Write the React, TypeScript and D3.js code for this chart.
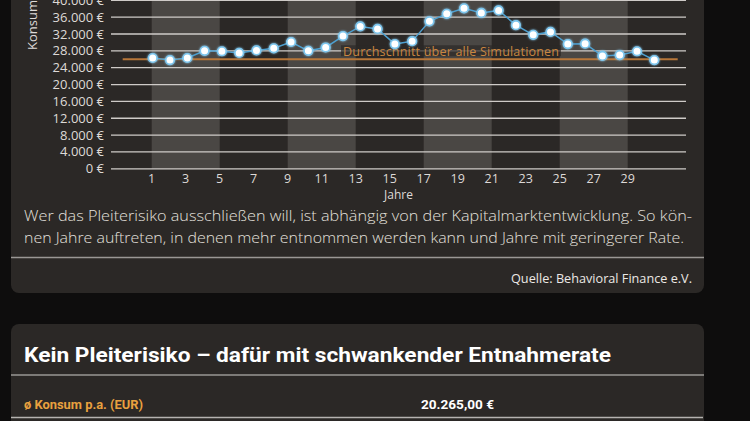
import * as d3 from 'd3';
import React, { useEffect, useRef } from 'react';

// Konsum pro Jahr (EUR), Jahr 1..30
const years = d3.range(1, 31);
const konsum = [
    26300, 25800, 26300, 28000, 27900, 27500, 28100, 28600, 30100, 28000,
    28800, 31500, 33800, 33200, 29600, 30300, 35000, 36800, 38100, 37000,
    37600, 34100, 31800, 32500, 29600, 29700, 26800, 27000, 27900, 25800,
];
const durchschnitt = 26000;
const yTicks = d3.range(0, 44000, 4000);
const xTickLabels = [1, 3, 5, 7, 9, 11, 13, 15, 17, 19, 21, 23, 25, 27, 29];
const bandStarts = [1, 9, 17, 25];

const bodyLines = [
    'Wer das Pleiterisiko ausschließen will, ist abhängig von der Kapitalmarktentwicklung. So kön-',
    'nen Jahre auftreten, in denen mehr entnommen werden kann und Jahre mit geringerer Rate.',
];
const quelle = 'Quelle: Behavioral Finance e.V.';
const heading = 'Kein Pleiterisiko – dafür mit schwankender Entnahmerate';
const rowLabel = 'ø Konsum p.a. (EUR)';
const rowValue = '20.265,00 €';

const fmt = (v: number) => d3.format(',')(v).replace(/,/g, '.') + ' €';

const App: React.FC = () => {
    const svgRef = useRef<SVGSVGElement | null>(null);

    useEffect(() => {
        const W = 750;
        const H = 421;
        const font = '"Open Sans", sans-serif';
        const cardBg = '#2b2826';
        const bandBg = '#4a4744';

        d3.select(svgRef.current).selectAll('*').remove();
        const svg = d3.select(svgRef.current).attr('width', W).attr('height', H);

        svg.append('rect').attr('width', W).attr('height', H).attr('fill', '#0e0d0d');

        // Card 1 (top is scrolled out of view)
        svg.append('rect')
            .attr('x', 11).attr('y', -40).attr('width', 693).attr('height', 333)
            .attr('rx', 8).attr('fill', cardBg);

        // Card 2
        svg.append('rect')
            .attr('x', 11).attr('y', 324).attr('width', 693).attr('height', 140)
            .attr('rx', 8).attr('fill', cardBg);

        // Scales
        const gridLeft = 111;
        const gridRight = 686;
        const xAxis = d3.scaleLinear().domain([1, 29]).range([151.7, 627.7]);
        const xPoint = d3.scaleLinear().domain([1, 30]).range([152.7, 654.3]);
        const y = d3.scaleLinear().domain([0, 40000]).range([168.8, 0.3]);

        const plot = svg.append('g');

        // Alternating bands
        plot.selectAll('rect.band')
            .data(bandStarts)
            .enter()
            .append('rect')
            .attr('class', 'band')
            .attr('x', d => xAxis(d))
            .attr('y', -40)
            .attr('width', d => xAxis(d + 4) - xAxis(d))
            .attr('height', 40 + y(0))
            .attr('fill', bandBg);

        // Gridlines
        plot.selectAll('line.grid')
            .data(yTicks)
            .enter()
            .append('line')
            .attr('x1', gridLeft)
            .attr('x2', gridRight)
            .attr('y1', d => y(d))
            .attr('y2', d => y(d))
            .attr('stroke', '#cfcbc8')
            .attr('stroke-width', 1.3);

        // Y tick labels
        plot.selectAll('text.ytick')
            .data(yTicks)
            .enter()
            .append('text')
            .attr('x', 104)
            .attr('y', d => y(d) + 4.5)
            .attr('text-anchor', 'end')
            .attr('fill', '#dedad7')
            .style('font-family', font)
            .style('font-size', '13px')
            .text(d => fmt(d));

        // Y axis title
        svg.append('text')
            .attr('transform', 'translate(37,50) rotate(-90)')
            .attr('text-anchor', 'start')
            .attr('fill', '#dedad7')
            .style('font-family', font)
            .style('font-size', '13px')
            .text('Konsum p.a.');

        // X tick labels
        plot.selectAll('text.xtick')
            .data(xTickLabels)
            .enter()
            .append('text')
            .attr('x', d => xAxis(d))
            .attr('y', 183)
            .attr('text-anchor', 'middle')
            .attr('fill', '#dedad7')
            .style('font-family', font)
            .style('font-size', '12.5px')
            .text(d => d);

        svg.append('text')
            .attr('x', (gridLeft + gridRight) / 2)
            .attr('y', 199)
            .attr('text-anchor', 'middle')
            .attr('fill', '#dedad7')
            .style('font-family', font)
            .style('font-size', '12px')
            .text('Jahre');

        // Average line
        plot.append('line')
            .attr('x1', 122.7)
            .attr('x2', 677.7)
            .attr('y1', y(durchschnitt))
            .attr('y2', y(durchschnitt))
            .attr('stroke', '#b8773a')
            .attr('stroke-width', 2);

        plot.append('rect')
            .attr('x', 341)
            .attr('y', y(durchschnitt) - 14)
            .attr('width', 220)
            .attr('height', 11)
            .attr('fill', cardBg)
            .attr('opacity', 0.7);

        plot.append('text')
            .attr('x', 343)
            .attr('y', y(durchschnitt) - 3.5)
            .attr('fill', '#c98640')
            .style('font-family', font)
            .style('font-size', '12.5px')
            .attr('textLength', 216)
            .text('Durchschnitt über alle Simulationen');

        // Line + points
        const line = d3.line<number>()
            .x((_, i) => xPoint(years[i]))
            .y(d => y(d));

        plot.append('path')
            .datum(konsum)
            .attr('d', line)
            .attr('fill', 'none')
            .attr('stroke', '#4d9fcf')
            .attr('stroke-width', 1.5);

        const defs = svg.append('defs');
        const glow = defs.append('filter').attr('id', 'glow')
            .attr('x', '-100%').attr('y', '-100%').attr('width', '300%').attr('height', '300%');
        glow.append('feGaussianBlur').attr('stdDeviation', 1.2).attr('result', 'b');
        const merge = glow.append('feMerge');
        merge.append('feMergeNode').attr('in', 'b');
        merge.append('feMergeNode').attr('in', 'SourceGraphic');

        plot.selectAll('circle.pt')
            .data(konsum)
            .enter()
            .append('circle')
            .attr('cx', (_, i) => xPoint(years[i]))
            .attr('cy', d => y(d))
            .attr('r', 4.3)
            .attr('fill', '#ffffff')
            .attr('stroke', '#7cc6ee')
            .attr('stroke-width', 1.6)
            .attr('filter', 'url(#glow)');

        // Body text
        svg.selectAll('text.body')
            .data(bodyLines)
            .enter()
            .append('text')
            .attr('x', 24)
            .attr('y', (_, i) => 221 + i * 22)
            .attr('fill', '#e4e0dd')
            .style('font-family', font)
            .style('font-size', '14px')
            .style('font-weight', 300)
            .attr('textLength', (_, i) => (i === 0 ? 668 : 660))
            .attr('lengthAdjust', 'spacingAndGlyphs')
            .text(d => d);

        svg.append('line')
            .attr('x1', 11).attr('x2', 704).attr('y1', 257.5).attr('y2', 257.5)
            .attr('stroke', '#9a9795').attr('stroke-width', 1.5);

        svg.append('text')
            .attr('x', 692)
            .attr('y', 282.5)
            .attr('text-anchor', 'end')
            .attr('fill', '#ece8e5')
            .style('font-family', font)
            .style('font-size', '13px')
            .attr('textLength', 181)
            .attr('lengthAdjust', 'spacingAndGlyphs')
            .text(quelle);

        // Card 2 content
        svg.append('text')
            .attr('x', 24)
            .attr('y', 362)
            .attr('fill', '#ffffff')
            .style('font-family', 'Roboto, sans-serif')
            .style('font-size', '19.5px')
            .style('font-weight', 700)
            .attr('textLength', 587)
            .attr('lengthAdjust', 'spacingAndGlyphs')
            .text(heading);

        svg.append('line')
            .attr('x1', 11).attr('x2', 704).attr('y1', 375).attr('y2', 375)
            .attr('stroke', '#9a9795').attr('stroke-width', 1.5);

        svg.append('text')
            .attr('x', 24)
            .attr('y', 409)
            .attr('fill', '#e9a13f')
            .style('font-family', 'Roboto, sans-serif')
            .style('font-size', '12px')
            .style('font-weight', 700)
            .attr('textLength', 119)
            .attr('lengthAdjust', 'spacingAndGlyphs')
            .text(rowLabel);

        svg.append('text')
            .attr('x', 421)
            .attr('y', 409)
            .attr('fill', '#ffffff')
            .style('font-family', 'Roboto, sans-serif')
            .style('font-size', '12px')
            .style('font-weight', 700)
            .attr('textLength', 73)
            .attr('lengthAdjust', 'spacingAndGlyphs')
            .text(rowValue);

        svg.append('line')
            .attr('x1', 11).attr('x2', 703).attr('y1', 417.5).attr('y2', 417.5)
            .attr('stroke', '#b5b2b0').attr('stroke-width', 1.5);
    }, []);

    return (
        <svg
            ref={svgRef}
            style={{ position: 'absolute', left: 0, top: 0, display: 'block' }}
        ></svg>
    );
};

export default App;
